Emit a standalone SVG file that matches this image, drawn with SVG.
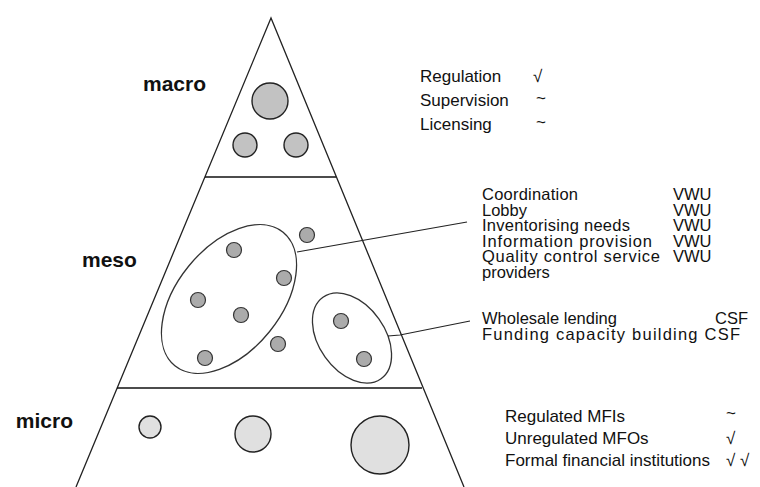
<svg xmlns="http://www.w3.org/2000/svg" width="760" height="487" viewBox="0 0 760 487">
<style>
text{font-family:"Liberation Sans",Arial,Helvetica,sans-serif;fill:#111}
.lvl{font-size:21px;font-weight:bold}
.t{font-size:17px}
.m{font-size:16.5px}
.edge{stroke:#222;stroke-width:1.3;fill:none}
.sep{stroke:#111;stroke-width:1.6}
.dot{fill:#ababab;stroke:#333;stroke-width:1.2}
.mac{fill:#c2c2c2;stroke:#222;stroke-width:1.4}
.mic{fill:#e0e0e0;stroke:#222;stroke-width:1.4}
.ell{fill:none;stroke:#333;stroke-width:1.3}
.con{stroke:#222;stroke-width:1.2;fill:none}
</style>
<rect width="760" height="487" fill="#fff"/>
<g id="pyramid">
<polyline class="edge" points="76,487 271,18 464,487"/>
<line class="sep" x1="205" y1="177" x2="336" y2="177"/>
<line class="sep" x1="117" y1="388" x2="422" y2="388"/>
</g>
<g id="labels">
<text class="lvl" x="143" y="91">macro</text>
<text class="lvl" x="82" y="267">meso</text>
<text class="lvl" x="73" y="428" text-anchor="end">micro</text>
</g>
<g id="macro-actors">
<circle class="mac" cx="270" cy="101" r="18"/>
<circle class="mac" cx="245" cy="145" r="12"/>
<circle class="mac" cx="296" cy="145" r="12"/>
</g>
<g id="meso-group-vwu">
<ellipse class="ell" cx="229" cy="299" rx="86" ry="52" transform="rotate(-51 229 299)"/>
<circle class="dot" cx="234" cy="250" r="7.5"/>
<circle class="dot" cx="284" cy="278" r="7.5"/>
<circle class="dot" cx="198" cy="300" r="7.5"/>
<circle class="dot" cx="241" cy="315" r="7.5"/>
<circle class="dot" cx="205" cy="358" r="7.5"/>
</g>
<g id="meso-other">
<circle class="dot" cx="307" cy="235" r="7.5"/>
<circle class="dot" cx="278" cy="344" r="7.5"/>
</g>
<g id="meso-group-csf">
<ellipse class="ell" cx="352" cy="338" rx="50" ry="33" transform="rotate(54.5 352 338)"/>
<circle class="dot" cx="341" cy="321" r="7.5"/>
<circle class="dot" cx="364" cy="359" r="7.5"/>
</g>
<g id="micro-actors">
<circle class="mic" cx="150" cy="427" r="11"/>
<circle class="mic" cx="253" cy="434" r="18"/>
<circle class="mic" cx="380" cy="445" r="29"/>
</g>
<g id="connectors">
<line class="con" x1="297" y1="252" x2="467" y2="222"/>
<polyline class="con" points="388,336 400,335 470,321"/>
</g>
<g id="macro-functions">
<text class="t" x="420" y="82">Regulation</text>
<text class="t" x="533" y="82">√</text>
<text class="t" x="420" y="106">Supervision</text>
<text class="t" x="536" y="104">~</text>
<text class="t" x="420" y="130">Licensing</text>
<text class="t" x="536" y="128">~</text>
</g>
<g id="meso-functions-vwu">
<text class="m" x="482" y="200" textLength="96">Coordination</text>
<text class="m" x="673" y="200">VWU</text>
<text class="m" x="482" y="215.5">Lobby</text>
<text class="m" x="673" y="215.5">VWU</text>
<text class="m" x="482" y="231" textLength="148">Inventorising needs</text>
<text class="m" x="673" y="231">VWU</text>
<text class="m" x="482" y="246.5" textLength="170">Information provision</text>
<text class="m" x="673" y="246.5">VWU</text>
<text class="m" x="482" y="262" textLength="178">Quality control service</text>
<text class="m" x="673" y="262">VWU</text>
<text class="m" x="482" y="277.5">providers</text>
</g>
<g id="meso-functions-csf">
<text class="m" x="482" y="324" textLength="135">Wholesale lending</text>
<text class="m" x="715" y="324">CSF</text>
<text class="m" x="482" y="340" textLength="258">Funding capacity building CSF</text>
</g>
<g id="micro-functions">
<text class="t" x="505" y="422">Regulated MFIs</text>
<text class="t" x="726" y="419">~</text>
<text class="t" x="505" y="444">Unregulated MFOs</text>
<text class="t" x="726" y="444">√</text>
<text class="t" x="505" y="466">Formal financial institutions</text>
<text class="t" x="726" y="466">√ √</text>
</g>
</svg>
